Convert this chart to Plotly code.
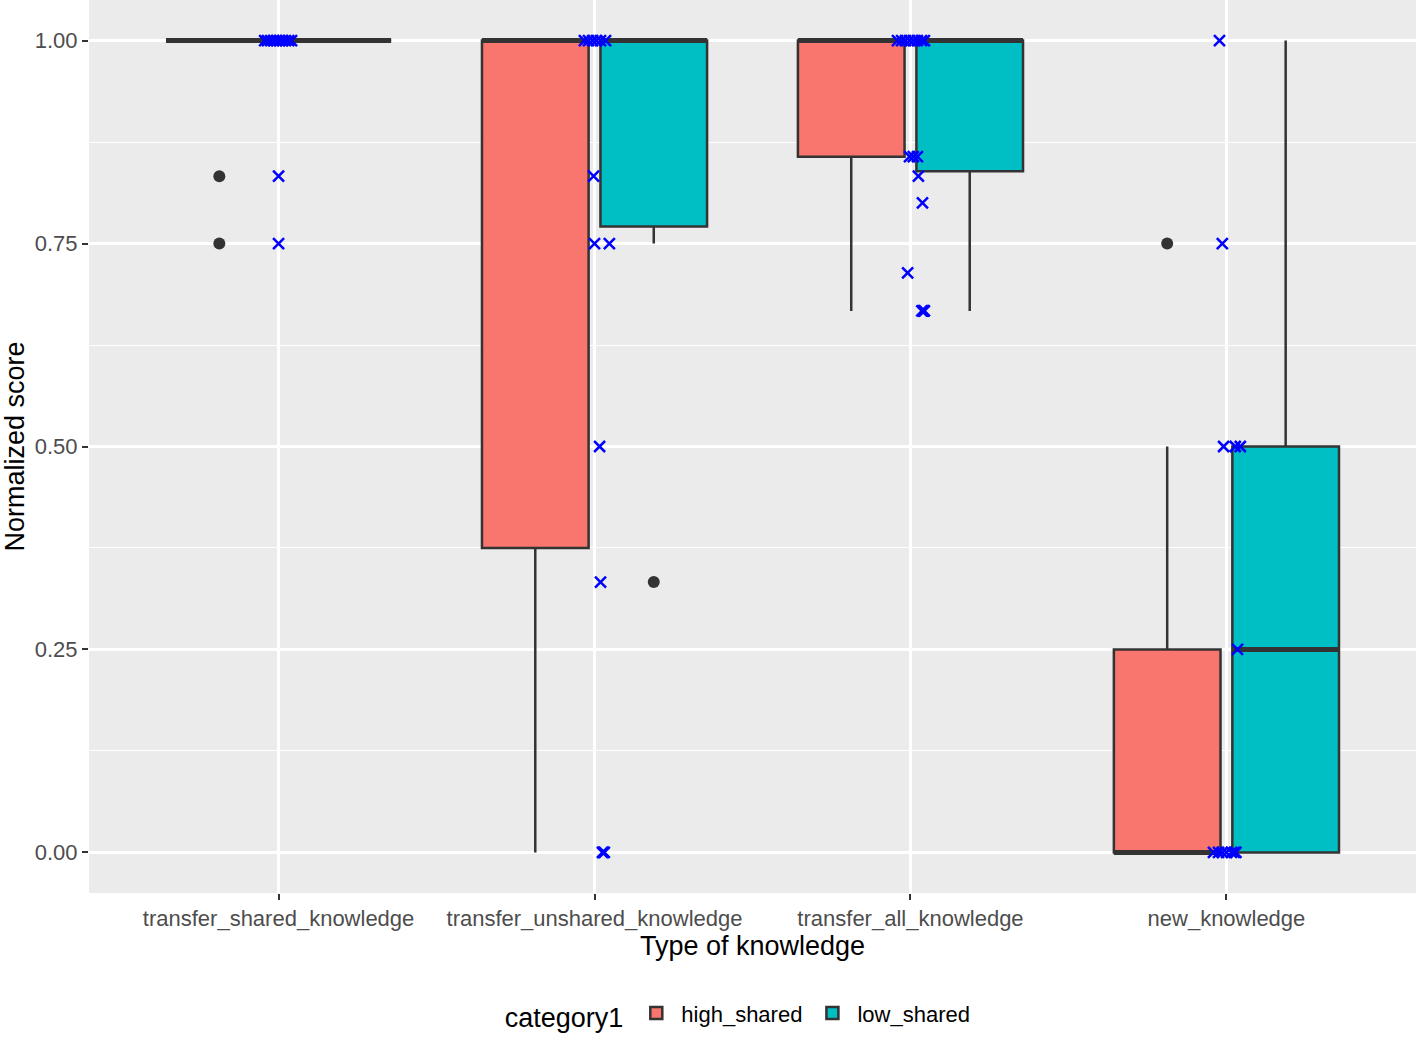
import plotly.graph_objects as go

# ---------------- data ----------------
categories = ["transfer_shared_knowledge", "transfer_unshared_knowledge",
              "transfer_all_knowledge", "new_knowledge"]
groups = ["high_shared", "low_shared"]

# box statistics
high_q1 = [1.0, 0.375, 0.857, 0.0]
high_median = [1.0, 1.0, 1.0, 0.0]
high_q3 = [1.0, 1.0, 1.0, 0.25]
high_lower = [1.0, 0.0, 0.667, 0.0]
high_upper = [1.0, 1.0, 1.0, 0.5]

low_q1 = [1.0, 0.771, 0.839, 0.0]
low_median = [1.0, 1.0, 1.0, 0.25]
low_q3 = [1.0, 1.0, 1.0, 0.5]
low_lower = [1.0, 0.75, 0.667, 0.0]
low_upper = [1.0, 1.0, 1.0, 1.0]

# outliers (category index, value)
high_outlier_cat = [0, 0, 3]
high_outlier_y = [0.833, 0.75, 0.75]
low_outlier_cat = [1]
low_outlier_y = [0.333]

# jittered raw observations (category index, value, horizontal jitter in category units)
point_cat = ([0] * 12 +
             [1] * 14 +
             [2] * 18 +
             [3] * 13)
point_y = ([1.0] * 10 + [0.833, 0.75] +
           [1.0] * 6 + [0.833, 0.75, 0.75, 0.5, 0.333, 0.0, 0.0, 0.0] +
           [1.0] * 8 + [0.857] * 3 + [0.833, 0.8, 0.714, 0.667, 0.667, 0.667, 0.667] +
           [1.0, 0.75, 0.5, 0.5, 0.5, 0.25] + [0.0] * 7)
point_jitter = ([-0.044, -0.035, -0.025, -0.016, -0.006, 0.003, 0.013, 0.022, 0.032, 0.041, 0.0, 0.0] +
                [-0.032, -0.019, -0.006, 0.006, 0.019, 0.035, -0.003, 0.0, 0.047, 0.016, 0.019, 0.025, 0.028, 0.031] +
                [-0.041, -0.028, -0.016, -0.003, 0.009, 0.022, 0.035, 0.044, -0.003, 0.009, 0.022,
                 0.025, 0.038, -0.009, 0.036, 0.039, 0.042, 0.044] +
                [-0.022, -0.013, -0.009, 0.028, 0.044, 0.035,
                 -0.041, -0.025, -0.013, 0.0, 0.016, 0.025, 0.03])

y_ticks = [0.0, 0.25, 0.5, 0.75, 1.0]
y_ticktext = ["0.00", "0.25", "0.50", "0.75", "1.00"]

# ---------------- style ----------------
FILL = {"high_shared": "#F8766D", "low_shared": "#00BFC4"}
EDGE = "#333333"
FONT = "Liberation Sans, Arial, Helvetica, sans-serif"
BOXGAP = 0.25
BOXGROUPGAP = 0.1

positions = [i + 1 for i in range(len(categories))]
# dodge offset of each group's box centre (ggplot dodge width 0.75)
dodge = (1 - BOXGAP) / 4.0
half_box = (1 - BOXGAP) / 2 * (1 - BOXGROUPGAP) / 2

fig = go.Figure()

stats = {
    "high_shared": (high_q1, high_median, high_q3, high_lower, high_upper),
    "low_shared": (low_q1, low_median, low_q3, low_lower, low_upper),
}
for g in groups:
    q1, med, q3, lo, hi = stats[g]
    fig.add_trace(go.Box(
        name=g, x=positions, q1=q1, median=med, q3=q3,
        lowerfence=lo, upperfence=hi,
        fillcolor=FILL[g], line=dict(color=EDGE, width=2.5),
        whiskerwidth=0, boxpoints=False, offsetgroup=g,
        hoverinfo="skip",
    ))

# thicker median lines (ggplot fatten)
for gi, g in enumerate(groups):
    med = stats[g][1]
    sign = -1 if gi == 0 else 1
    xs, ys = [], []
    for p, m in zip(positions, med):
        c = p + sign * dodge
        xs += [c - half_box, c + half_box, None]
        ys += [m, m, None]
    fig.add_trace(go.Scatter(x=xs, y=ys, mode="lines",
                             line=dict(color=EDGE, width=5),
                             showlegend=False, hoverinfo="skip"))

# outliers
fig.add_trace(go.Scatter(
    x=[positions[c] - dodge for c in high_outlier_cat], y=high_outlier_y,
    mode="markers", marker=dict(color=EDGE, size=12, symbol="circle"),
    showlegend=False, hoverinfo="skip"))
fig.add_trace(go.Scatter(
    x=[positions[c] + dodge for c in low_outlier_cat], y=low_outlier_y,
    mode="markers", marker=dict(color=EDGE, size=12, symbol="circle"),
    showlegend=False, hoverinfo="skip"))

# jittered observations
fig.add_trace(go.Scatter(
    x=[positions[c] + j for c, j in zip(point_cat, point_jitter)], y=point_y,
    mode="markers",
    marker=dict(symbol="x-thin", size=11, color="blue",
                line=dict(color="blue", width=2.5)),
    showlegend=False, hoverinfo="skip"))

fig.update_layout(
    width=1418, height=1041,
    margin=dict(l=89, r=2, t=0, b=148),
    paper_bgcolor="white", plot_bgcolor="#EBEBEB",
    boxmode="group", boxgap=BOXGAP, boxgroupgap=BOXGROUPGAP,
    font=dict(family=FONT, color="black"),
    showlegend=True,
    legend=dict(
        orientation="h", x=0.49, xanchor="center", y=-0.1625, yanchor="bottom",
        title=dict(text="category1", font=dict(size=27, color="black"), side="left"),
        font=dict(size=22, color="black"),
        bgcolor="rgba(0,0,0,0)", itemwidth=40,
    ),
)

fig.update_xaxes(
    range=[0.4, 4.6], tickmode="array", tickvals=positions, ticktext=categories,
    showgrid=True, gridcolor="white", gridwidth=2.5, zeroline=False,
    ticks="outside", ticklen=6, tickwidth=2, tickcolor=EDGE,
    tickfont=dict(size=22, color="#4D4D4D"),
    title=dict(text="Type of knowledge", font=dict(size=27, color="black"), standoff=4),
    showline=False,
)
fig.update_yaxes(
    range=[-0.05, 1.05], tickmode="array", tickvals=y_ticks, ticktext=y_ticktext,
    showgrid=True, gridcolor="white", gridwidth=2.5, zeroline=False,
    minor=dict(tickmode="array", tickvals=[0.125, 0.375, 0.625, 0.875],
               showgrid=True, gridcolor="white", gridwidth=1.2),
    ticks="outside", ticklen=6, tickwidth=2, tickcolor=EDGE,
    tickfont=dict(size=22, color="#4D4D4D"),
    title=dict(text="Normalized score", font=dict(size=27, color="black"), standoff=6),
    showline=False,
)

fig.write_html("out.html",
               config={"displayModeBar": False},
               post_script="document.body.style.margin='0';document.body.style.overflow='hidden';")
